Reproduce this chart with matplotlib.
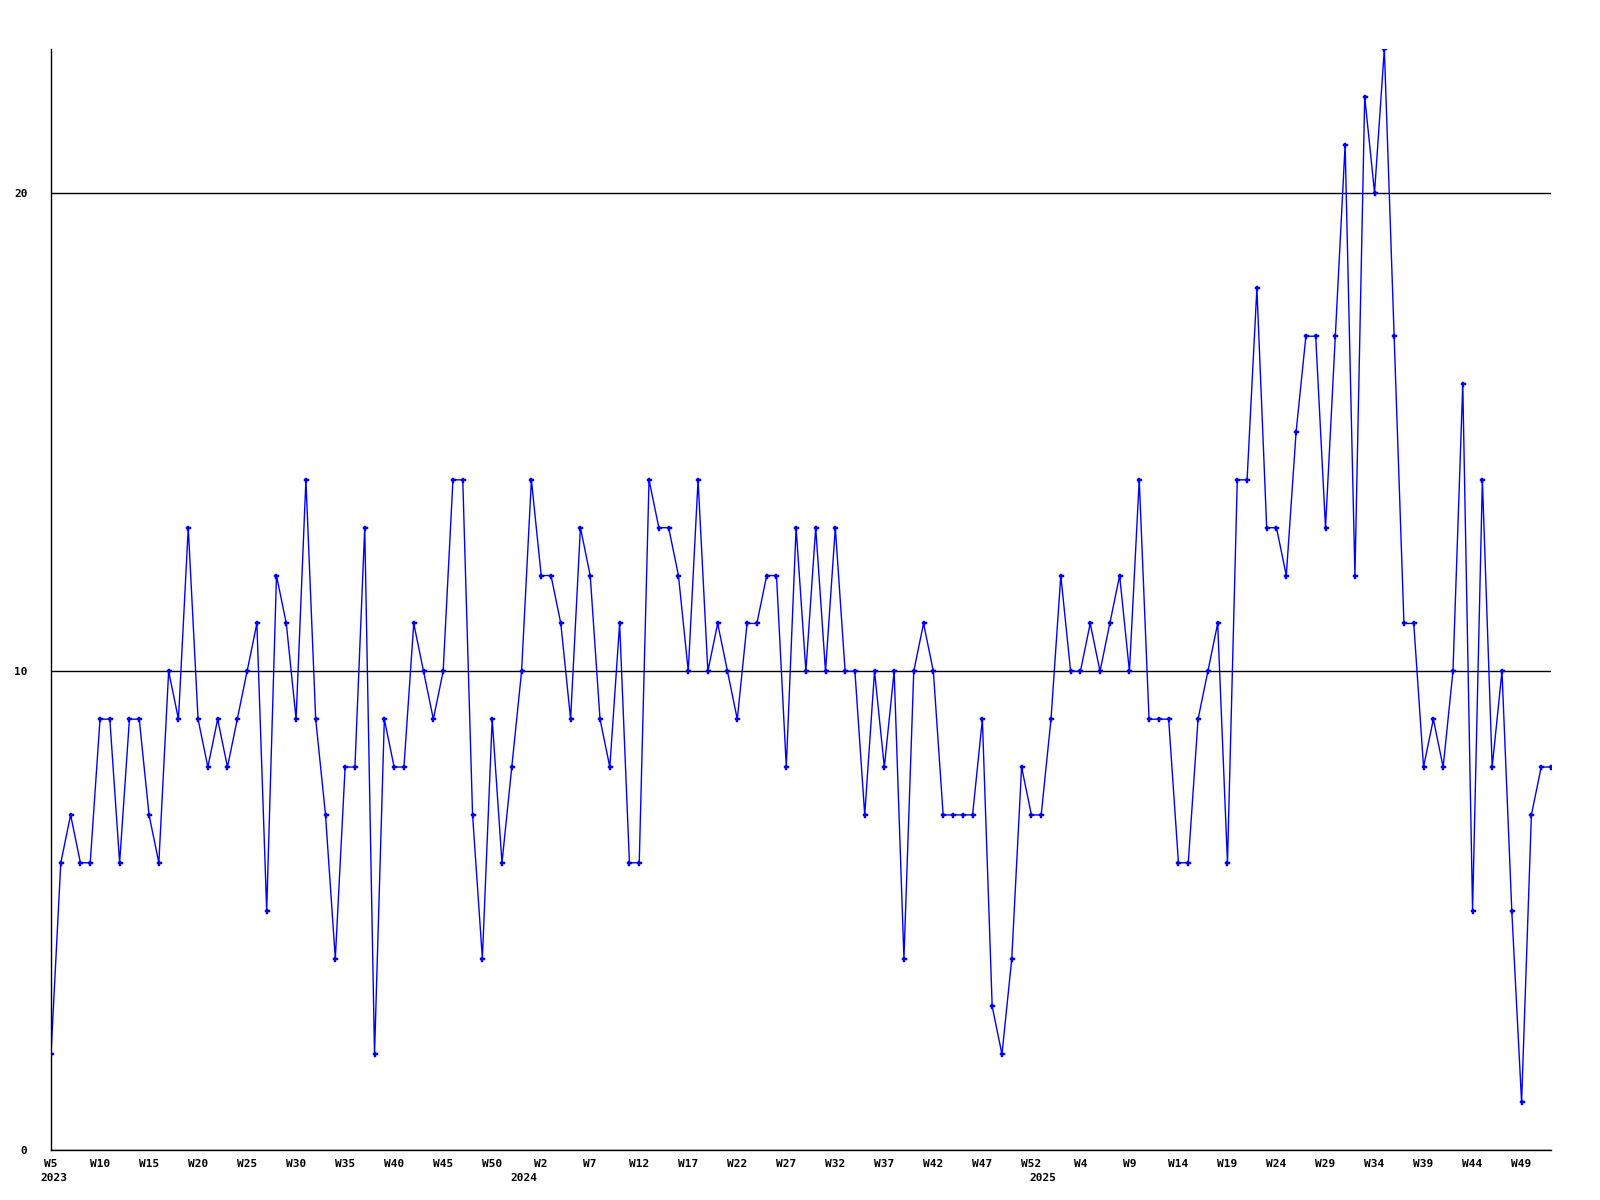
import matplotlib
matplotlib.use("Agg")
import matplotlib.pyplot as plt
import matplotlib.transforms as mtransforms

# weeks shown per year (first week, last week)
years = ["2023", "2024", "2025"]
first_week = [5, 1, 1]
last_week = [53, 53, 52]

# weekly values, 2023 W5 .. 2025 W52
valores = [
    2, 6, 7, 6, 6, 9, 9, 6, 9, 9,
    7, 6, 10, 9, 13, 9, 8, 9, 8, 9,
    10, 11, 5, 12, 11, 9, 14, 9, 7, 4,
    8, 8, 13, 2, 9, 8, 8, 11, 10, 9,
    10, 14, 14, 7, 4, 9, 6, 8, 10, 14,
    12, 12, 11, 9, 13, 12, 9, 8, 11, 6,
    6, 14, 13, 13, 12, 10, 14, 10, 11, 10,
    9, 11, 11, 12, 12, 8, 13, 10, 13, 10,
    13, 10, 10, 7, 10, 8, 10, 4, 10, 11,
    10, 7, 7, 7, 7, 9, 3, 2, 4, 8,
    7, 7, 9, 12, 10, 10, 11, 10, 11, 12,
    10, 14, 9, 9, 9, 6, 6, 9, 10, 11,
    6, 14, 14, 18, 13, 13, 12, 15, 17, 17,
    13, 17, 21, 12, 22, 20, 23, 17, 11, 11,
    8, 9, 8, 10, 16, 5, 14, 8, 10, 5,
    1, 7, 8, 8,
]

# etiquetas de semana y posicion de cada año
semanas = []
inicio_anio = []
for anio, w0, w1 in zip(years, first_week, last_week):
    inicio_anio.append(len(semanas))
    for w in range(w0, w1 + 1):
        semanas.append(f"W{w}")

x = list(range(len(valores)))

fig = plt.figure(figsize=(16, 12), dpi=100)
ax = fig.add_axes([51 / 1600, 50 / 1200, 1500 / 1600, 1101 / 1200])

ax.plot(x, valores, color="#0000ff", lw=1.0, marker="P",
        markersize=3.6, markeredgewidth=0.3)

ax.set_xlim(0, len(valores) - 1)
ax.set_ylim(0, max(valores))

ax.set_yticks([0, 10, 20])
ax.yaxis.grid(True, color="black", lw=1)
ax.set_axisbelow(True)

pos_ticks = x[::5]
ax.set_xticks(pos_ticks)
ax.set_xticklabels([semanas[i] for i in pos_ticks])

fuente = dict(family="DejaVu Sans Mono", weight="bold", size=8)
for lbl in ax.get_xticklabels() + ax.get_yticklabels():
    lbl.set_fontproperties(matplotlib.font_manager.FontProperties(**fuente))

ax.tick_params(axis="x", length=0, pad=6.5)
ax.tick_params(axis="y", length=0, pad=17)

for s in ["top", "right"]:
    ax.spines[s].set_visible(False)
for s in ["left", "bottom"]:
    ax.spines[s].set_color("black")
    ax.spines[s].set_linewidth(1)

trans = mtransforms.blended_transform_factory(ax.transData, ax.transAxes)
for anio, i in zip(years, inicio_anio):
    if i == 0:
        ax.text(i - 1.1, -0.021, anio, transform=trans, ha="left", va="top", **fuente)
    else:
        ax.text(i - 0.8, -0.021, anio, transform=trans, ha="center", va="top", **fuente)

fig.savefig("out.png", dpi=100, facecolor="white")
